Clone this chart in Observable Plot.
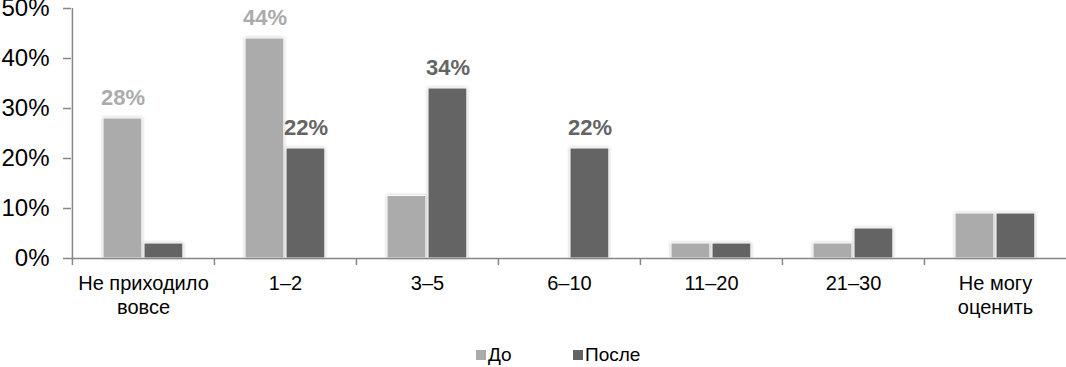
<!DOCTYPE html>
<html><head><meta charset="utf-8">
<script src="https://cdn.jsdelivr.net/npm/d3@7"></script>
<script src="https://cdn.jsdelivr.net/npm/@observablehq/plot@0.6"></script>
<style>
body{margin:0;background:#fff;font-family:Arial,"Liberation Sans",sans-serif;}
#legend{position:relative;height:37px;font-size:19px;color:#000;}
.li{position:absolute;top:14px;display:flex;align-items:center;}
.sw{width:10px;height:10px;margin-right:2px;}
</style></head>
<body><div id="chart"></div><div id="legend"></div>
<script>
const categories = ["Не приходило\nвовсе","1–2","3–5","6–10","11–20","21–30","Не могу\nоценить"];
const before = [28,44,12.5,0,3,3,9];
const after  = [3,22,34,22,3,6,9];
const labelBefore = [28,44,null,null,null,null,null];
const labelAfter  = [null,22,34,22,null,null,null];
const yTicks = [0,10,20,30,40,50];
const seriesNames = ["До","После"];
const colors = ["#ababab","#646464"];

const rowsB = categories.map((c,i)=>({c, v:before[i], lab:labelBefore[i]}));
const rowsA = categories.map((c,i)=>({c, v:after[i], lab:labelAfter[i]}));
const bw = (1066-71)/categories.length;

const chart = Plot.plot({
  width:1066, height:330,
  marginTop:8, marginLeft:71, marginRight:0, marginBottom:72,
  style:{fontFamily:'Arial,"Liberation Sans",sans-serif', background:"#fff", overflow:"visible"},
  x:{type:"band", domain:categories, padding:0, axis:null},
  y:{domain:[0,50], axis:null},
  marks:[
    Plot.barY(rowsB,{x:"c", y:"v", fill:colors[0], stroke:"white", strokeWidth:1, insetLeft:31, insetRight:bw-70}),
    Plot.barY(rowsA,{x:"c", y:"v", fill:colors[1], stroke:"white", strokeWidth:1, insetLeft:72, insetRight:bw-111}),
    Plot.ruleY([0],{stroke:"#868686", strokeWidth:1.5}),
    Plot.ruleX(categories,{x:d=>d, dx:-bw/2, y1:0, y2:-1.4, stroke:"#868686", strokeWidth:1.5}),
    Plot.ruleX([categories[0]],{x:d=>d, dx:-bw/2, y1:0, y2:50, stroke:"#868686", strokeWidth:1.5}),
    Plot.axisY({ticks:yTicks, tickFormat:d=>d+"%", label:null, tickSize:8, tickPadding:14, fontSize:24, stroke:"#868686", color:"#000", strokeWidth:1.5}),
    Plot.text(rowsB.filter(d=>d.lab!=null),{x:"c", y:"v", text:d=>d.lab+"%", dx:50.5-bw/2, dy:-14, lineAnchor:"bottom", fill:colors[0], fontSize:22, fontWeight:"bold"}),
    Plot.text(rowsA.filter(d=>d.lab!=null),{x:"c", y:"v", text:d=>d.lab+"%", dx:91.5-bw/2, dy:-14, lineAnchor:"bottom", fill:colors[1], fontSize:22, fontWeight:"bold"}),
    Plot.text(categories,{x:d=>d, y:0, text:d=>d, dy:14, lineAnchor:"top", fontSize:20, lineHeight:1.2, fill:"#000"})
  ]
});
d3.select(chart).selectAll("rect").style("filter","drop-shadow(0 0 1.5px rgba(0,0,0,0.25))");
document.getElementById("chart").appendChild(chart);

const leg = document.getElementById("legend");
const lefts = [476, 573];
seriesNames.forEach((n,i)=>{
  const el = document.createElement("div");
  el.className="li"; el.style.left=lefts[i]+"px";
  el.innerHTML = `<span class="sw" style="background:${colors[i]}"></span><span>${n}</span>`;
  leg.appendChild(el);
});
</script></body></html>
